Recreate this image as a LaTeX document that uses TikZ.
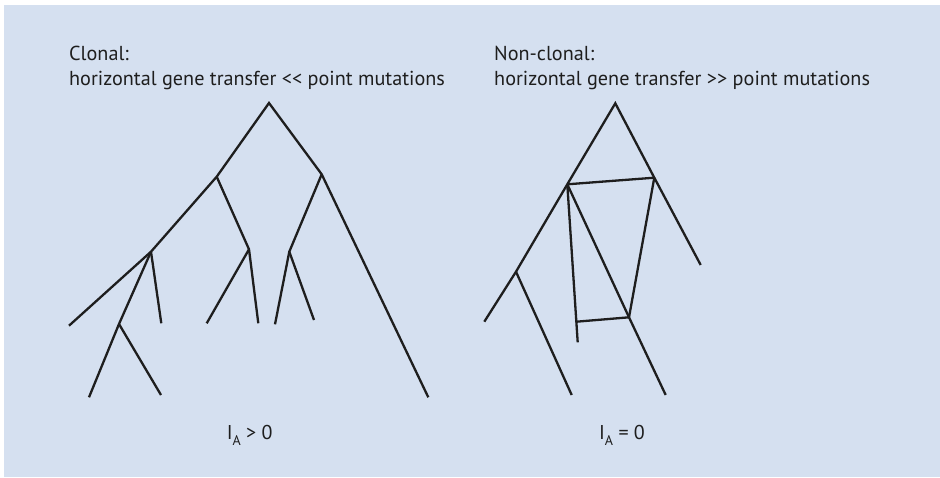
\documentclass[tikz,border=0pt]{standalone}
\usepackage{fontspec}
\setmainfont{PT Sans}
\definecolor{panelbg}{RGB}{213,224,240}
\definecolor{ink}{RGB}{30,30,30}
\tikzset{
  branch/.style={draw=ink, line width=2.3pt, line join=miter, line cap=butt},
  caption/.style={anchor=base west, inner sep=0pt, font=\fontsize{20.2}{24}\selectfont, text=ink},
  index/.style={anchor=base, inner sep=0pt, font=\fontsize{20}{24}\selectfont, text=ink}
}
\newcommand{\idxA}{I\raisebox{-0.3em}{\fontsize{14}{15}\selectfont A}}
\begin{document}
\begin{tikzpicture}[x=1pt,y=-1pt]
  \useasboundingbox (0,0) rectangle (940,477);
  \fill[white] (0,0) rectangle (940,477);
  \fill[panelbg] (4,5) rectangle (940,477);

  % headings
  \node[caption] (t1) at (69,60) {Clonal:};
  \node[caption] (t2) at (69,85) {horizontal gene transfer <\kern0pt< point mutations};
  \node[caption] (t3) at (494,60) {Non-clonal:};
  \node[caption] (t4) at (494,85) {horizontal gene transfer >\kern0pt> point mutations};

  % clonal tree
  \coordinate (root) at (269,103);
  \coordinate (l1) at (216.7,176.7);
  \coordinate (r1) at (321.7,174.3);
  \coordinate (l2) at (151,251.7);
  \coordinate (m) at (249,249.3);
  \coordinate (n) at (289.3,251.7);
  \coordinate (r1x) at (428.3,397.3);
  \coordinate (l2a) at (69,325.7);
  \coordinate (l2b) at (161.3,323.3);
  \coordinate (p) at (119,324);
  \coordinate (pa) at (89,397.3);
  \coordinate (pb) at (161,395);
  \coordinate (ma) at (206.7,323.3);
  \coordinate (mb) at (258.3,323.3);
  \coordinate (na) at (275,324.3);
  \coordinate (nb) at (314,320);

  \draw[branch] (l2a) -- (l2) -- (l1) -- (root) -- (r1) -- (r1x);
  \draw[branch] (l2) -- (l2b);
  \draw[branch] (l2) -- (p) -- (pa);
  \draw[branch] (p) -- (pb);
  \draw[branch] (l1) -- (m) -- (mb);
  \draw[branch] (m) -- (ma);
  \draw[branch] (r1) -- (n) -- (na);
  \draw[branch] (n) -- (nb);

  % non-clonal network
  \coordinate (root2) at (615.3,103.3);
  \coordinate (a) at (567.3,184.3);
  \coordinate (b) at (654.3,177.7);
  \coordinate (bx) at (700.7,265);
  \coordinate (c) at (516,271.7);
  \coordinate (ca) at (484.3,321.7);
  \coordinate (cb) at (571.7,395);
  \coordinate (dx) at (577.7,342.3);
  \coordinate (d) at (576.4,321.7);
  \coordinate (e) at (629,317.3);
  \coordinate (ex) at (665.7,395);

  \draw[branch] (ca) -- (c) -- (a) -- (root2) -- (b) -- (bx);
  \draw[branch] (c) -- (cb);
  \draw[branch] (a) -- (b);
  \draw[branch] (a) -- (dx);
  \draw[branch] (a) -- (e) -- (ex);
  \draw[branch] (b) -- (e);
  \draw[branch] (d) -- (e);

  % indices
  \node[index] (i1) at (249.7,439) {\idxA\ > 0};
  \node[index] (i2) at (622,439) {\idxA\ = 0};
\end{tikzpicture}
\end{document}
